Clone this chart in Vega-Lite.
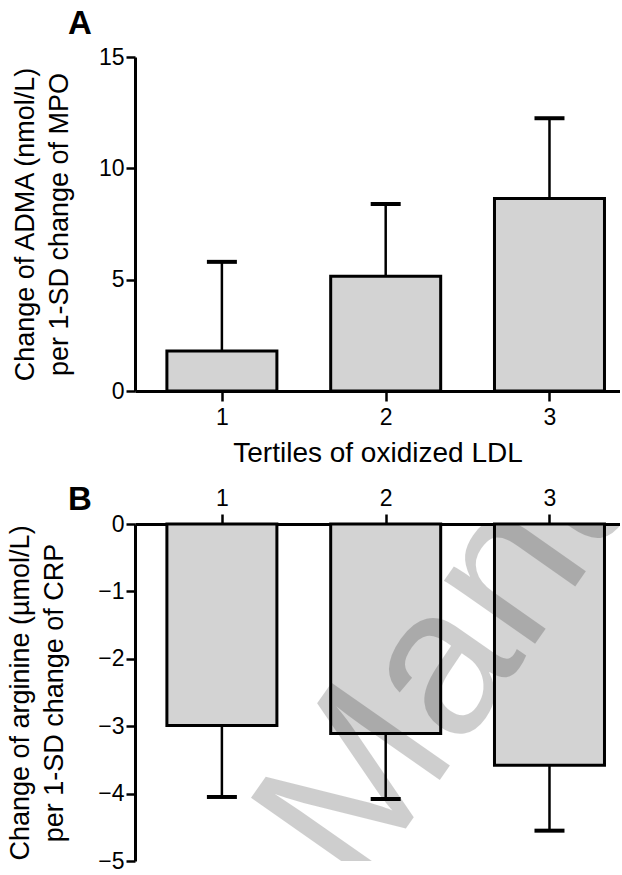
{
  "$schema": "https://vega.github.io/schema/vega-lite/v6.json",
  "background": "white",
  "padding": {"left": 6, "top": 8, "right": 0, "bottom": 0},
  "bounds": "flush",
  "spacing": 133,
  "config": {
    "font": "Liberation Sans",
    "view": {"stroke": null},
    "axis": {
      "domainColor": "black", "domainWidth": 3, "tickColor": "black", "tickWidth": 2.5, "tickSize": 9,
      "labelFont": "Liberation Sans", "labelFontSize": 23, "labelColor": "black",
      "titleFont": "Liberation Sans", "titleFontSize": 27, "titleFontWeight": "normal", "titleColor": "black",
      "grid": false
    }
  },
  "datasets": {
    "a": [
      {"tertile": 1, "mean": 1.8, "err": 5.8},
      {"tertile": 2, "mean": 5.15, "err": 8.4},
      {"tertile": 3, "mean": 8.65, "err": 12.25}
    ],
    "b": [
      {"tertile": 1, "mean": -2.99, "err": -4.05},
      {"tertile": 2, "mean": -3.11, "err": -4.08},
      {"tertile": 3, "mean": -3.58, "err": -4.55}
    ]
  },
  "vconcat": [
    {
      "width": 485, "height": 334,
      "title": {"text": "A", "anchor": "start", "frame": "group", "dx": -67, "fontSize": 33, "fontWeight": "bold", "offset": -21, "baseline": "alphabetic", "color": "black", "font": "Liberation Sans"},
      "data": {"name": "a"},
      "resolve": {"axis": {"y": "independent"}},
      "encoding": {
        "x": {"field": "tertile", "type": "quantitative", "scale": {"domain": [0.5, 3.4], "nice": false, "zero": false},
              "axis": {"values": [1, 2, 3], "format": "d", "title": "Tertiles of oxidized LDL", "titleFontSize": 28, "labelPadding": 5, "titlePadding": 10, "tickSize": 10}}
      },
      "layer": [
        {"mark": {"type": "bar", "size": 110, "fill": "#d3d3d3", "stroke": "black", "strokeWidth": 3},
         "encoding": {"y": {"field": "mean", "type": "quantitative", "scale": {"domain": [0, 15], "nice": false},
           "axis": {"values": [0, 5, 10, 15], "title": ["Change of ADMA (nmol/L)", "per 1-SD change of MPO"], "titlePadding": 25, "titleLineHeight": 34, "labelPadding": 2}}}},
        {"mark": {"type": "rule", "strokeWidth": 2.5, "color": "black"},
         "encoding": {"y": {"field": "mean", "type": "quantitative", "axis": null}, "y2": {"field": "err"}}},
        {"mark": {"type": "tick", "orient": "horizontal", "size": 30, "thickness": 4, "color": "black", "opacity": 1},
         "encoding": {"y": {"field": "err", "type": "quantitative", "axis": null}}}
      ]
    },
    {
      "width": 485, "height": 337,
      "title": {"text": "B", "anchor": "start", "frame": "group", "dx": -67, "fontSize": 33, "fontWeight": "bold", "offset": -56, "baseline": "alphabetic", "color": "black", "font": "Liberation Sans"},
      "data": {"name": "b"},
      "resolve": {"axis": {"y": "independent"}},
      "encoding": {
        "x": {"field": "tertile", "type": "quantitative", "scale": {"domain": [0.5, 3.4], "nice": false, "zero": false},
              "axis": {"orient": "top", "values": [1, 2, 3], "format": "d", "title": null, "labelPadding": 4, "tickSize": 10}}
      },
      "layer": [
        {"mark": {"type": "bar", "size": 110, "fill": "#d3d3d3", "stroke": "black", "strokeWidth": 3},
         "encoding": {"y": {"field": "mean", "type": "quantitative", "scale": {"domain": [-5, 0], "nice": false},
           "axis": {"values": [-5, -4, -3, -2, -1, 0], "title": ["Change of arginine (µmol/L)", "per 1-SD change of CRP"], "titlePadding": 29, "titleLineHeight": 34, "labelPadding": 2}}}},
        {"mark": {"type": "rule", "strokeWidth": 2.5, "color": "black"},
         "encoding": {"y": {"field": "mean", "type": "quantitative", "axis": null}, "y2": {"field": "err"}}},
        {"mark": {"type": "tick", "orient": "horizontal", "size": 30, "thickness": 4, "color": "black", "opacity": 1},
         "encoding": {"y": {"field": "err", "type": "quantitative", "axis": null}}},
        {"transform": [{"filter": "datum.tertile == 1"}],
         "mark": {"type": "text", "clip": true, "angle": -55, "align": "left", "baseline": "alphabetic", "fontSize": 210, "font": "Liberation Sans", "color": "#000000", "opacity": 0.19},
         "encoding": {"x": {"datum": 1.84, "type": "quantitative"}, "y": {"datum": -5.5, "type": "quantitative", "axis": null}, "text": {"value": "Manuscript"}}}
      ]
    }
  ]
}
